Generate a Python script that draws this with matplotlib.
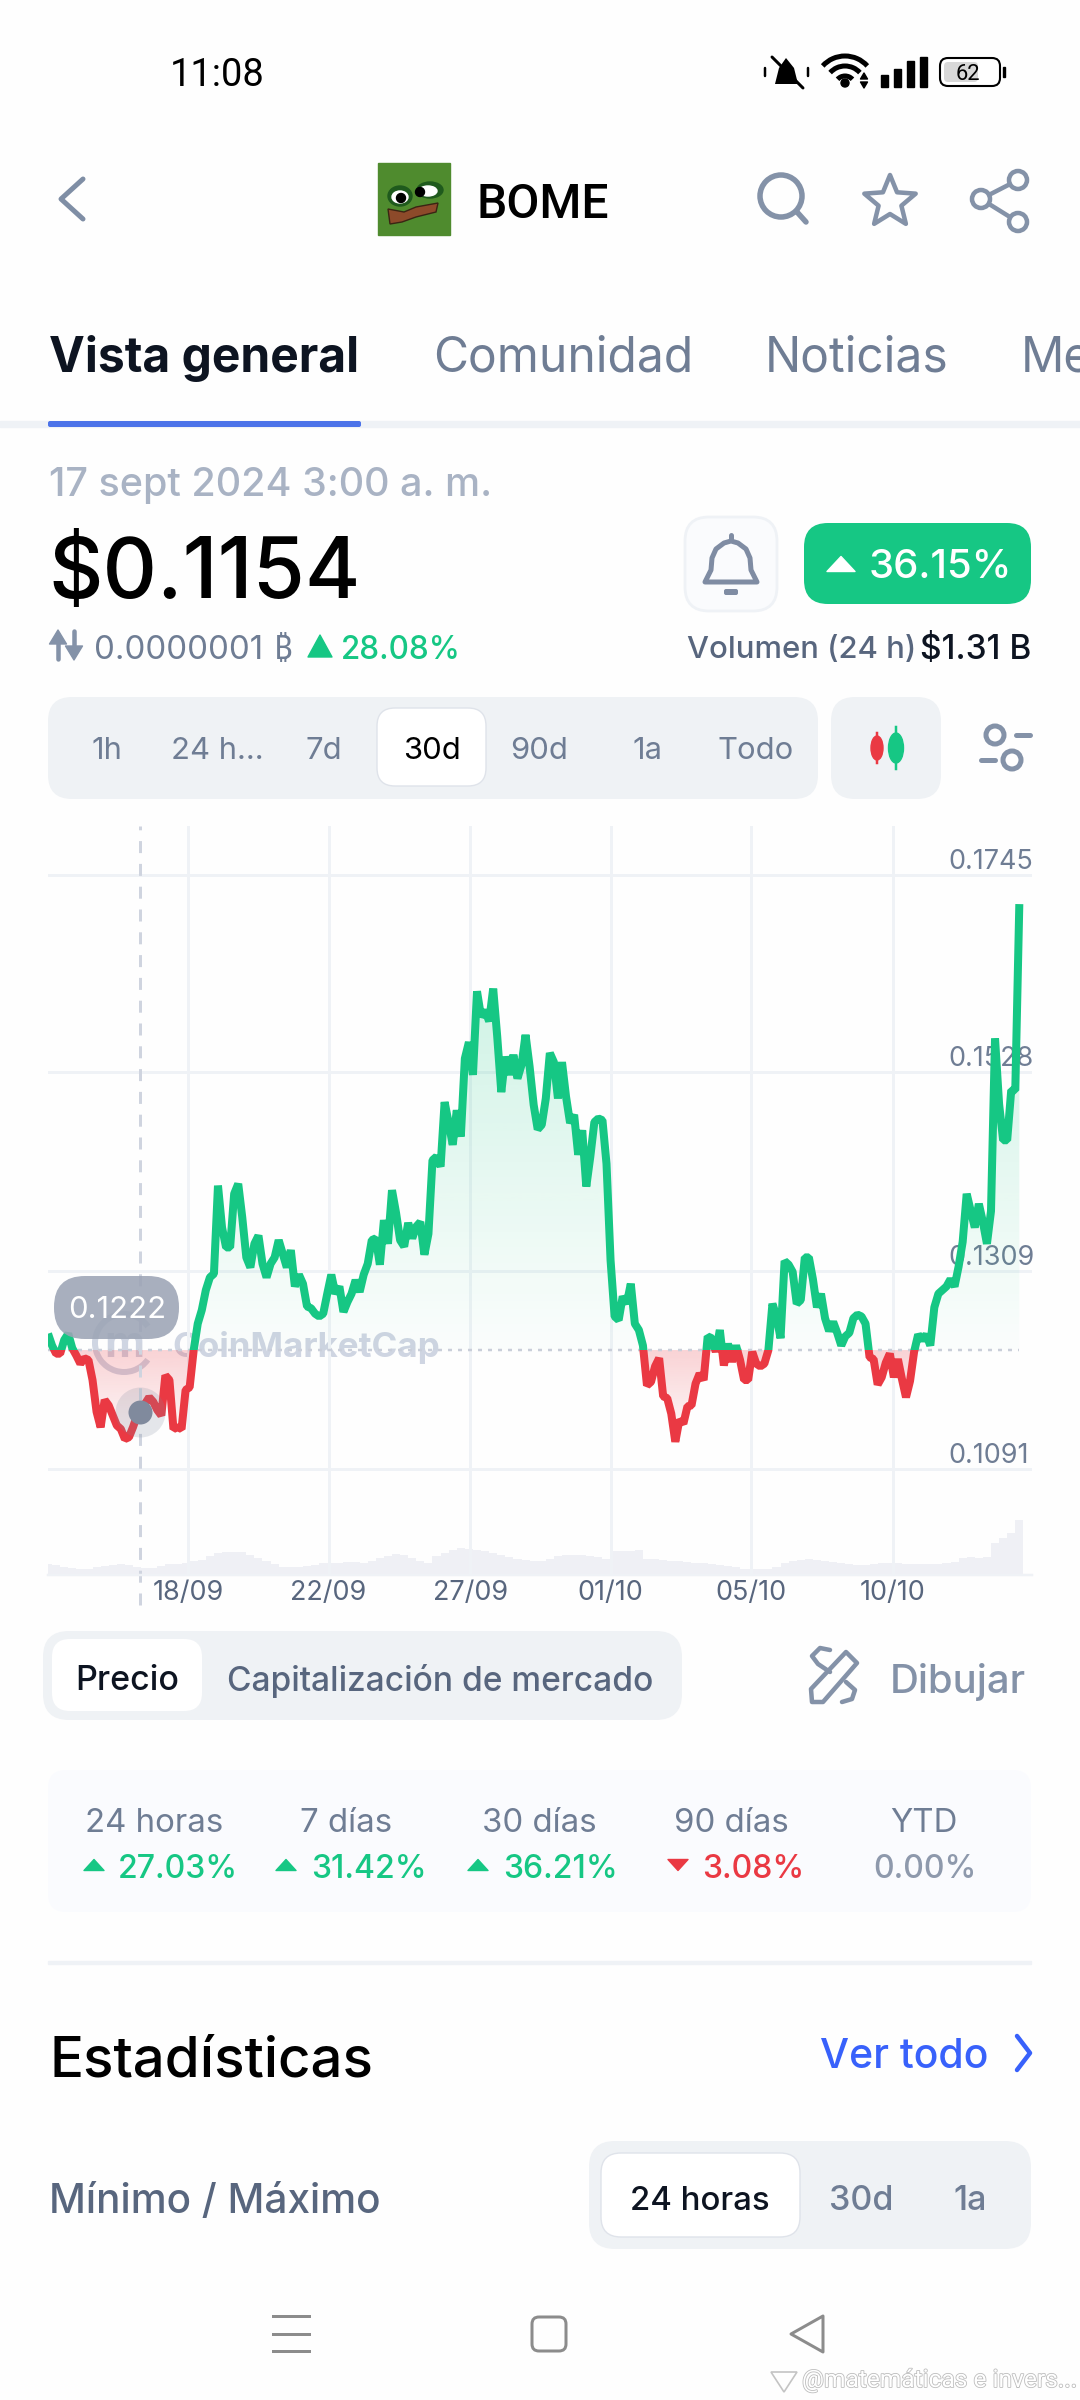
import numpy as np
import matplotlib
matplotlib.use('Agg')
import matplotlib.pyplot as plt
from matplotlib.patches import FancyBboxPatch, Rectangle, Circle, Polygon, Ellipse, Arc
import matplotlib.patheffects as pe

plt.rcParams['font.family'] = ['Inter', 'Roboto', 'DejaVu Sans']

# price every 3 hours over the 30 days
price = [
    0.1240, 0.1227, 0.1218, 0.1218, 0.1233, 0.1240, 0.1224, 0.1216, 0.1207, 0.1213,
    0.1211, 0.1189, 0.1154, 0.1137, 0.1167, 0.1161, 0.1150, 0.1139, 0.1135, 0.1124,
    0.1126, 0.1137, 0.1150, 0.1157, 0.1163, 0.1170, 0.1165, 0.1156, 0.1150, 0.1194,
    0.1189, 0.1135, 0.1137, 0.1135, 0.1178, 0.1181, 0.1222, 0.1251, 0.1266, 0.1288,
    0.1302, 0.1306, 0.1403, 0.1357, 0.1335, 0.1335, 0.1394, 0.1405, 0.1368, 0.1324,
    0.1313, 0.1339, 0.1348, 0.1317, 0.1302, 0.1317, 0.1324, 0.1343, 0.1328, 0.1313,
    0.1332, 0.1292, 0.1305, 0.1295, 0.1270, 0.1268, 0.1262, 0.1259, 0.1262, 0.1284,
    0.1305, 0.1284, 0.1292, 0.1264, 0.1275, 0.1284, 0.1299, 0.1286, 0.1305, 0.1317,
    0.1343, 0.1345, 0.1316, 0.1365, 0.1339, 0.1398, 0.1373, 0.1343, 0.1336, 0.1362,
    0.1345, 0.1358, 0.1363, 0.1327, 0.1350, 0.1431, 0.1435, 0.1424, 0.1495, 0.1472,
    0.1448, 0.1486, 0.1457, 0.1543, 0.1561, 0.1525, 0.1617, 0.1589, 0.1596, 0.1584,
    0.1620, 0.1567, 0.1506, 0.1545, 0.1525, 0.1547, 0.1521, 0.1536, 0.1569, 0.1534,
    0.1492, 0.1465, 0.1470, 0.1499, 0.1549, 0.1539, 0.1499, 0.1539, 0.1501, 0.1472,
    0.1481, 0.1437, 0.1464, 0.1402, 0.1435, 0.1473, 0.1477, 0.1475, 0.1427, 0.1321,
    0.1259, 0.1255, 0.1281, 0.1273, 0.1295, 0.1251, 0.1244, 0.1227, 0.1183, 0.1187,
    0.1204, 0.1213, 0.1171, 0.1169, 0.1152, 0.1121, 0.1145, 0.1141, 0.1160, 0.1161,
    0.1185, 0.1196, 0.1189, 0.1237, 0.1235, 0.1220, 0.1244, 0.1205, 0.1229, 0.1209,
    0.1227, 0.1211, 0.1189, 0.1189, 0.1220, 0.1207, 0.1204, 0.1207, 0.1222, 0.1273,
    0.1259, 0.1235, 0.1320, 0.1316, 0.1308, 0.1273, 0.1277, 0.1324, 0.1324, 0.1300,
    0.1269, 0.1284, 0.1257, 0.1243, 0.1253, 0.1241, 0.1227, 0.1237, 0.1241, 0.1257,
    0.1261, 0.1259, 0.1251, 0.1214, 0.1212, 0.1184, 0.1192, 0.1208, 0.1218, 0.1192,
    0.1212, 0.1190, 0.1170, 0.1188, 0.1220, 0.1239, 0.1233, 0.1239, 0.1227, 0.1269,
    0.1284, 0.1288, 0.1292, 0.1300, 0.1292, 0.1314, 0.1341, 0.1394, 0.1375, 0.1357,
    0.1383, 0.1363, 0.1339, 0.1375, 0.1565, 0.1493, 0.1453, 0.1453, 0.1508, 0.1508,
    0.1713,
]

# relative volume, one bar every 6 hours
volume = [
    11, 10, 8, 7, 6, 6.5, 8, 9.5, 10.5, 11, 10, 8.5, 7, 7.5, 9, 11, 11, 12.5, 14, 15.5,
    19, 22, 23, 23, 23, 20, 17.5, 14, 11, 8, 8, 8, 9.5, 10.5, 12, 12.5, 12.5, 13, 13, 12.5,
    14.5, 17, 19.5, 21, 20.5, 17, 14.5, 12.5, 19, 22.5, 25, 27, 26, 25, 24, 22, 20, 18, 16, 15,
    14.5, 14.5, 16, 19, 20, 20, 20, 19.5, 18, 16.5, 24, 24, 24.5, 25, 16.5, 16, 15, 14.5, 14, 13,
    12.5, 12, 11.5, 10.5, 9.5, 8, 6.5, 6, 6, 6.5, 8, 12, 14, 15.5, 16, 15, 14, 13.5, 12.5, 11.5,
    10.5, 10, 11, 12, 12.5, 12, 11.5, 11, 11, 11, 11.5, 12, 13.5, 17.5, 18, 17.5, 18, 32, 37, 42,
    55,
]

y_ticks = [0.1745, 0.1528, 0.1309, 0.1091]
y_labels = ['0.1745', '0.1528', '0.1309', '0.1091']
x_ticks = [104, 208, 313, 417, 521, 626]
x_labels = ['18/09', '22/09', '27/09', '01/10', '05/10', '10/10']
base_price = 0.1222
hover_hour = 68
hover_price = 0.1154

ranges = ['1h', '24 h...', '7d', '30d', '90d', '1a', 'Todo']
tabs = ['Vista general', 'Comunidad', 'Noticias', 'Me']
stat_names = ['24 horas', '7 días', '30 días', '90 días', 'YTD']
stat_values = ['27.03%', '31.42%', '36.21%', '3.08%', '0.00%']

GREEN = '#16c784'
RED = '#ea3943'
GRID = '#eff2f6'
TEXT = '#58667e'
SOFT = '#6f7d94'
ICON = '#8492a8'
PANEL = '#eff2f5'


def px(size):
    # pixel size -> font points at 100 dpi
    return size * 0.72


def label(ax, x, y, s, size, color='black', weight='normal', ha='left', **kw):
    return ax.text(x, y, s, fontsize=px(size), color=color, fontweight=weight,
                   ha=ha, va='center_baseline', **kw)


def box(ax, x0, y0, x1, y1, r, color, edge='none', lw=0, z=1):
    p = FancyBboxPatch((x0, y0), x1 - x0, y1 - y0, boxstyle='round,pad=0,rounding_size=%d' % r,
                       facecolor=color, edgecolor=edge, linewidth=lw, zorder=z)
    ax.add_patch(p)
    return p


def tri(ax, cx, cy, w, h, color, up=True):
    s = -1 if up else 1
    ax.add_patch(Polygon([(cx - w / 2, cy - s * h / 2), (cx + w / 2, cy - s * h / 2), (cx, cy + s * h / 2)],
                         closed=True, facecolor=color, edgecolor=color, linewidth=1, joinstyle='round'))


def stroke(ax, xs, ys, color=ICON, lw=4.5):
    ax.plot(xs, ys, color=color, lw=px(lw), solid_capstyle='round', solid_joinstyle='round')


fig = plt.figure(figsize=(10.8, 24), dpi=100, facecolor='#fefefe')

ui = fig.add_axes([0, 0, 1, 1], zorder=0)
ui.set_xlim(0, 1080)
ui.set_ylim(2400, 0)
ui.axis('off')

# status bar
label(ui, 217, 72, '11:08', 38, 'black', family='Roboto', ha='center')
ui.add_patch(Polygon([(775, 84), (779, 68), (786, 58), (794, 68), (798, 84)], facecolor='black'))
stroke(ui, [772, 803], [57, 88], 'black', 3)
stroke(ui, [765, 765], [68, 76], 'black', 2.5)
stroke(ui, [808, 808], [68, 76], 'black', 2.5)
for r in [30, 20, 10]:
    ui.add_patch(Arc((845, 86), r * 2, r * 2, theta1=222, theta2=318, color='black', lw=px(5)))
ui.add_patch(Circle((845, 83), 4, color='black'))
tri(ui, 864, 76, 7, 6, 'black')
tri(ui, 864, 85, 7, 6, 'black', False)
for i, h in enumerate([12, 18, 26, 30]):
    ui.add_patch(Rectangle((881 + i * 13, 87 - h), 7, h, color='black'))
box(ui, 940, 58, 1000, 86, 8, 'white', 'black', 1.5)
box(ui, 944, 62, 978, 82, 4, '#d8d8d8')
ui.add_patch(Rectangle((1003, 67), 2, 10, color='black'))
label(ui, 968, 72, '62', 22, 'black', family='Roboto', ha='center')

# header
stroke(ui, [83, 61, 83], [179, 199, 219], '#7f8ea5', 5)
ui.add_patch(Rectangle((378, 163), 72, 72, color='#4f8b2e'))
ui.add_patch(Ellipse((400, 196), 24, 20, color='#1f5a1d'))
ui.add_patch(Ellipse((430, 190), 26, 16, color='#1f5a1d'))
ui.add_patch(Ellipse((400, 197), 16, 12, color='white'))
ui.add_patch(Ellipse((428, 191), 18, 10, color='white'))
ui.add_patch(Circle((401, 198), 4.5, color='black'))
ui.add_patch(Circle((420, 192), 4.5, color='black'))
ui.add_patch(Polygon([(388, 209), (404, 212), (416, 207), (438, 203), (436, 212), (416, 217),
                      (402, 222), (390, 224)], facecolor='#8d4a2a', edgecolor='#3a2413', linewidth=1))
label(ui, 476, 200, 'BOME', 48, 'black', 'medium', family='Roboto')
ui.add_patch(Circle((781, 196), 21, fill=False, edgecolor=ICON, linewidth=px(5.5)))
stroke(ui, [797, 806], [212, 222], ICON, 5.5)
ang = np.deg2rad(np.arange(11) * 36 - 90)
rad = np.where(np.arange(11) % 2 == 0, 27, 12)
ui.add_patch(Polygon(np.c_[890 + rad * np.cos(ang), 202 + rad * np.sin(ang)], fill=False,
                     edgecolor=ICON, linewidth=px(4.5), joinstyle='round'))
stroke(ui, [1018, 981, 1018], [180, 199, 222], ICON, 4.5)
for cx, cy in [(1018, 180), (981, 199), (1018, 222)]:
    ui.add_patch(Circle((cx, cy), 9, facecolor='#fefefe', edgecolor=ICON, linewidth=px(4.5), zorder=3))

# tabs
label(ui, 49, 354, tabs[0], 48, '#0d1421', 'bold')
label(ui, 433, 354, tabs[1], 48, SOFT)
label(ui, 765, 354, tabs[2], 48, SOFT)
label(ui, 1021, 354, tabs[3], 48, SOFT)
ui.add_patch(Rectangle((0, 421), 1080, 6, color=GRID))
box(ui, 48, 421, 361, 427, 2, '#4c73e9')

# price header
label(ui, 49, 482, '17 sept 2024 3:00 a. m.', 39.5, '#a9b3c4', 'medium')
label(ui, 48, 567, '$0.1154', 84.5, 'black', 'medium')
box(ui, 685, 517, 777, 611, 24, '#fafbfd', GRID, 2)
bell_x = [731, 724, 716, 712, 711, 705, 757, 751, 750, 746, 738, 731]
bell_y = [541, 543, 549, 558, 570, 582, 582, 570, 558, 549, 543, 541]
ui.add_patch(Polygon(np.c_[bell_x, bell_y], fill=False, edgecolor='#7f8ca3', linewidth=px(5), joinstyle='round'))
stroke(ui, [731, 731], [535, 540], '#7f8ca3', 5)
box(ui, 724, 589, 738, 595, 2, '#7f8ca3')
box(ui, 804, 523, 1031, 604, 24, GREEN)
tri(ui, 841, 564, 28, 15, 'white')
label(ui, 869, 564, '36.15%', 40, 'white', 'medium')

# up / down arrows
stroke(ui, [58, 58], [640, 659], ICON, 4.5)
tri(ui, 58, 637, 17, 14, ICON)
stroke(ui, [74, 74], [631, 650], ICON, 4.5)
tri(ui, 74, 653, 17, 14, ICON, False)
label(ui, 94, 647, '0.0000001', 33, SOFT)
label(ui, 274, 647, '₿', 32, SOFT, family=['Noto Sans', 'Open Sans', 'Lato', 'Roboto', 'Liberation Sans', 'DejaVu Sans'])
tri(ui, 320, 646, 24, 22, GREEN)
label(ui, 341, 647, '28.08%', 31.5, GREEN, 'medium')
label(ui, 687, 647, 'Volumen (24 h)', 31, TEXT, 'medium')
label(ui, 1031, 647, '$1.31 B', 33.5, '#0d1421', 'medium', ha='right')

# range selector
box(ui, 48, 697, 818, 799, 24, PANEL)
box(ui, 377, 708, 486, 786, 18, 'white', '#dfe3ea', 1)
for name, cx in zip(ranges, [107, 217, 324, 432, 539, 647, 756]):
    label(ui, cx, 748, name, 31, 'black' if name == '30d' else SOFT, ha='center')
box(ui, 831, 697, 941, 799, 24, PANEL)
ui.plot([877, 877], [733, 763], color=RED, lw=px(2.5))
ui.add_patch(Ellipse((877, 748), 12, 24, color=RED))
ui.plot([896, 896], [727, 769], color=GREEN, lw=px(2.5))
ui.add_patch(Ellipse((896, 748), 15, 30, color=GREEN))
stroke(ui, [1016, 1030], [735, 735], ICON, 5)
stroke(ui, [981, 995], [760, 760], ICON, 5)
ui.add_patch(Circle((995, 735), 9, fill=False, edgecolor=ICON, linewidth=px(5)))
ui.add_patch(Circle((1012, 760), 9, fill=False, edgecolor=ICON, linewidth=px(5)))

# CoinMarketCap watermark sits under the line
ui.add_patch(Arc((124, 1343), 58, 58, theta1=35, theta2=325, color='#cfd5e2', lw=px(6)))
label(ui, 124, 1341, 'm', 44, '#cfd5e2', 'bold', ha='center')
label(ui, 172, 1344, 'CoinMarketCap', 35, '#cfd5e2', 'bold')

# volume strip
vol_ax = fig.add_axes([48 / 1080, 1 - 1575 / 2400, 984 / 1080, 100 / 2400], zorder=0.5)
vol_ax.patch.set_alpha(0)
vol_x = np.arange(len(volume)) * 6
vol_ax.bar(vol_x, volume, width=6, color='#eff0f5')
vol_ax.set_xlim(0, 729.4)
vol_ax.set_ylim(0, 100)
vol_ax.axis('off')

# price chart
chart = fig.add_axes([48 / 1080, 1 - 1575 / 2400, 984 / 1080, 749 / 2400], zorder=1)
chart.patch.set_alpha(0)
hours = np.arange(len(price)) * 3
values = np.array(price)
x_lim = (0, 729.4)
y_lim = (0.09743, 0.1799)

# gradients under the line, clipped to the area between line and base price
up_area = chart.fill_between(hours, np.maximum(values, base_price), base_price, color='none')
down_area = chart.fill_between(hours, np.minimum(values, base_price), base_price, color='none')

green_grad = np.zeros((256, 1, 4))
green_grad[:, :, :3] = matplotlib.colors.to_rgb(GREEN)
green_grad[:, 0, 3] = np.linspace(0.015, 0.24, 256)
im = chart.imshow(green_grad, extent=(0, hours[-1], base_price, 0.1713), origin='lower', aspect='auto', zorder=1.5)
im.set_clip_path(up_area.get_paths()[0], chart.transData)

red_grad = np.zeros((256, 1, 4))
red_grad[:, :, :3] = matplotlib.colors.to_rgb(RED)
red_grad[:, 0, 3] = np.linspace(0.02, 0.22, 256)
im = chart.imshow(red_grad, extent=(0, hours[-1], min(price), base_price), origin='lower', aspect='auto', zorder=1.5)
im.set_clip_path(down_area.get_paths()[0], chart.transData)

chart.axhline(base_price, xmax=hours[-1] / x_lim[1], color='#c9ced9', lw=px(2.5), ls=(0, (1.6, 2.4)), zorder=1.6)

# one line, drawn twice and clipped at the base price
for color, low, high in [(GREEN, base_price, y_lim[1]), (RED, y_lim[0], base_price)]:
    line, = chart.plot(hours, values, color=color, lw=px(8), solid_joinstyle='bevel', solid_capstyle='butt', zorder=3)
    line.set_clip_path(Rectangle((x_lim[0], low), x_lim[1], high - low, transform=chart.transData))

chart.set_xlim(x_lim)
chart.set_ylim(y_lim)
chart.set_axisbelow(True)
chart.grid(True, color=GRID, lw=px(3))
chart.set_xticks(x_ticks, x_labels)
chart.set_yticks(y_ticks, y_labels)
chart.yaxis.tick_right()
chart.tick_params(axis='x', length=0, pad=px(5), labelsize=px(27), labelcolor=TEXT)
chart.tick_params(axis='y', length=0, pad=px(-84), labelsize=px(27), labelcolor=SOFT)
for t in chart.get_yticklabels():
    t.set_va('bottom')
for s in chart.spines.values():
    s.set_visible(False)
chart.spines['bottom'].set_visible(True)
chart.spines['bottom'].set_color(GRID)
chart.spines['bottom'].set_linewidth(px(2.5))

# hover crosshair and point
chart.axvline(hover_hour, ymin=-0.04, ymax=1, color='#cfd4df', lw=px(3), ls=(0, (4, 3.6)), clip_on=False, zorder=2)
chart.scatter([hover_hour], [hover_price], s=px(50) ** 2, color='#808a9d', alpha=0.2, linewidths=0, zorder=4)
chart.scatter([hover_hour], [hover_price], s=px(24) ** 2, color='#808a9d', linewidths=0, zorder=5)

top = fig.add_axes([0, 0, 1, 1], zorder=2)
top.set_xlim(0, 1080)
top.set_ylim(2400, 0)
top.axis('off')
box(top, 54, 1276, 179, 1339, 31, '#9ca4b5')
top.patches[-1].set_alpha(0.88)
label(top, 117, 1307, '0.1222', 31, 'white', ha='center')

# below chart
box(ui, 43, 1631, 682, 1720, 26, PANEL)
box(ui, 52, 1639, 202, 1711, 18, 'white')
label(ui, 127, 1678, 'Precio', 34, '#0d1421', 'medium', ha='center')
label(ui, 227, 1678, 'Capitalización de mercado', 33.5, TEXT, 'medium')
# pen with squiggle
ui.add_patch(Polygon([(812, 1702), (811, 1689), (846, 1652), (857, 1663), (823, 1702)], fill=False,
                     edgecolor=ICON, linewidth=px(4.5), joinstyle='round'))
stroke(ui, [830, 820, 812, 818, 830], [1650, 1648, 1656, 1664, 1672], ICON, 4.5)
stroke(ui, [846, 855, 852, 842], [1682, 1690, 1699, 1702], ICON, 4.5)
label(ui, 890, 1678, 'Dibujar', 40, ICON, 'medium')

box(ui, 48, 1770, 1031, 1912, 18, '#fafbfe')
for name, cx in zip(stat_names, [154, 346, 539, 731, 924]):
    label(ui, cx, 1820, name, 33, SOFT, ha='center')
for val, x0, tx, col, up in zip(stat_values, [118, 311, 503, 702, 873], [94, 286, 478, 678, None],
                                [GREEN, GREEN, GREEN, RED, '#8e99ac'], [True, True, True, False, None]):
    label(ui, x0, 1866, val, 32, col, 'medium')
    if tx is not None:
        tri(ui, tx, 1865, 20, 11, col, up)

ui.add_patch(Rectangle((48, 1961), 983, 3, color=GRID))
label(ui, 49, 2056, 'Estadísticas', 56.5, 'black', 'medium')
label(ui, 820, 2053, 'Ver todo', 41, '#3861fb', 'medium')
stroke(ui, [1017, 1030, 1017], [2036, 2053, 2070], '#3861fb', 4.5)

label(ui, 49, 2198, 'Mínimo / Máximo', 40.5, TEXT, 'medium')
box(ui, 589, 2141, 1031, 2249, 26, PANEL)
box(ui, 601, 2153, 800, 2237, 20, 'white', '#dfe3ea', 1)
label(ui, 700, 2198, '24 horas', 33, '#0d1421', 'medium', ha='center')
label(ui, 861, 2198, '30d', 34, SOFT, 'medium', ha='center')
label(ui, 970, 2198, '1a', 34, SOFT, 'medium', ha='center')

# nav bar
NAV = '#8c8c8c'
for y in [2316, 2334, 2351]:
    ui.plot([273, 309], [y, y], color=NAV, lw=px(3))
box(ui, 532, 2317, 566, 2351, 7, 'none', NAV, px(3))
ui.add_patch(Polygon([(823, 2316), (791, 2334), (823, 2352)], fill=False, edgecolor=NAV, linewidth=px(3), joinstyle='round'))

# repost watermark
txt = label(ui, 802, 2378, '@matemáticas e invers...', 24.5, 'white', family='Roboto')
txt.set_path_effects([pe.withStroke(linewidth=1.2, foreground='#bdbdbd')])
ui.add_patch(Polygon([(771, 2372), (784, 2392), (797, 2372)], fill=False, edgecolor='#c4c4c4', linewidth=1.2))

fig.savefig('out.png', dpi=100, facecolor=fig.get_facecolor())
